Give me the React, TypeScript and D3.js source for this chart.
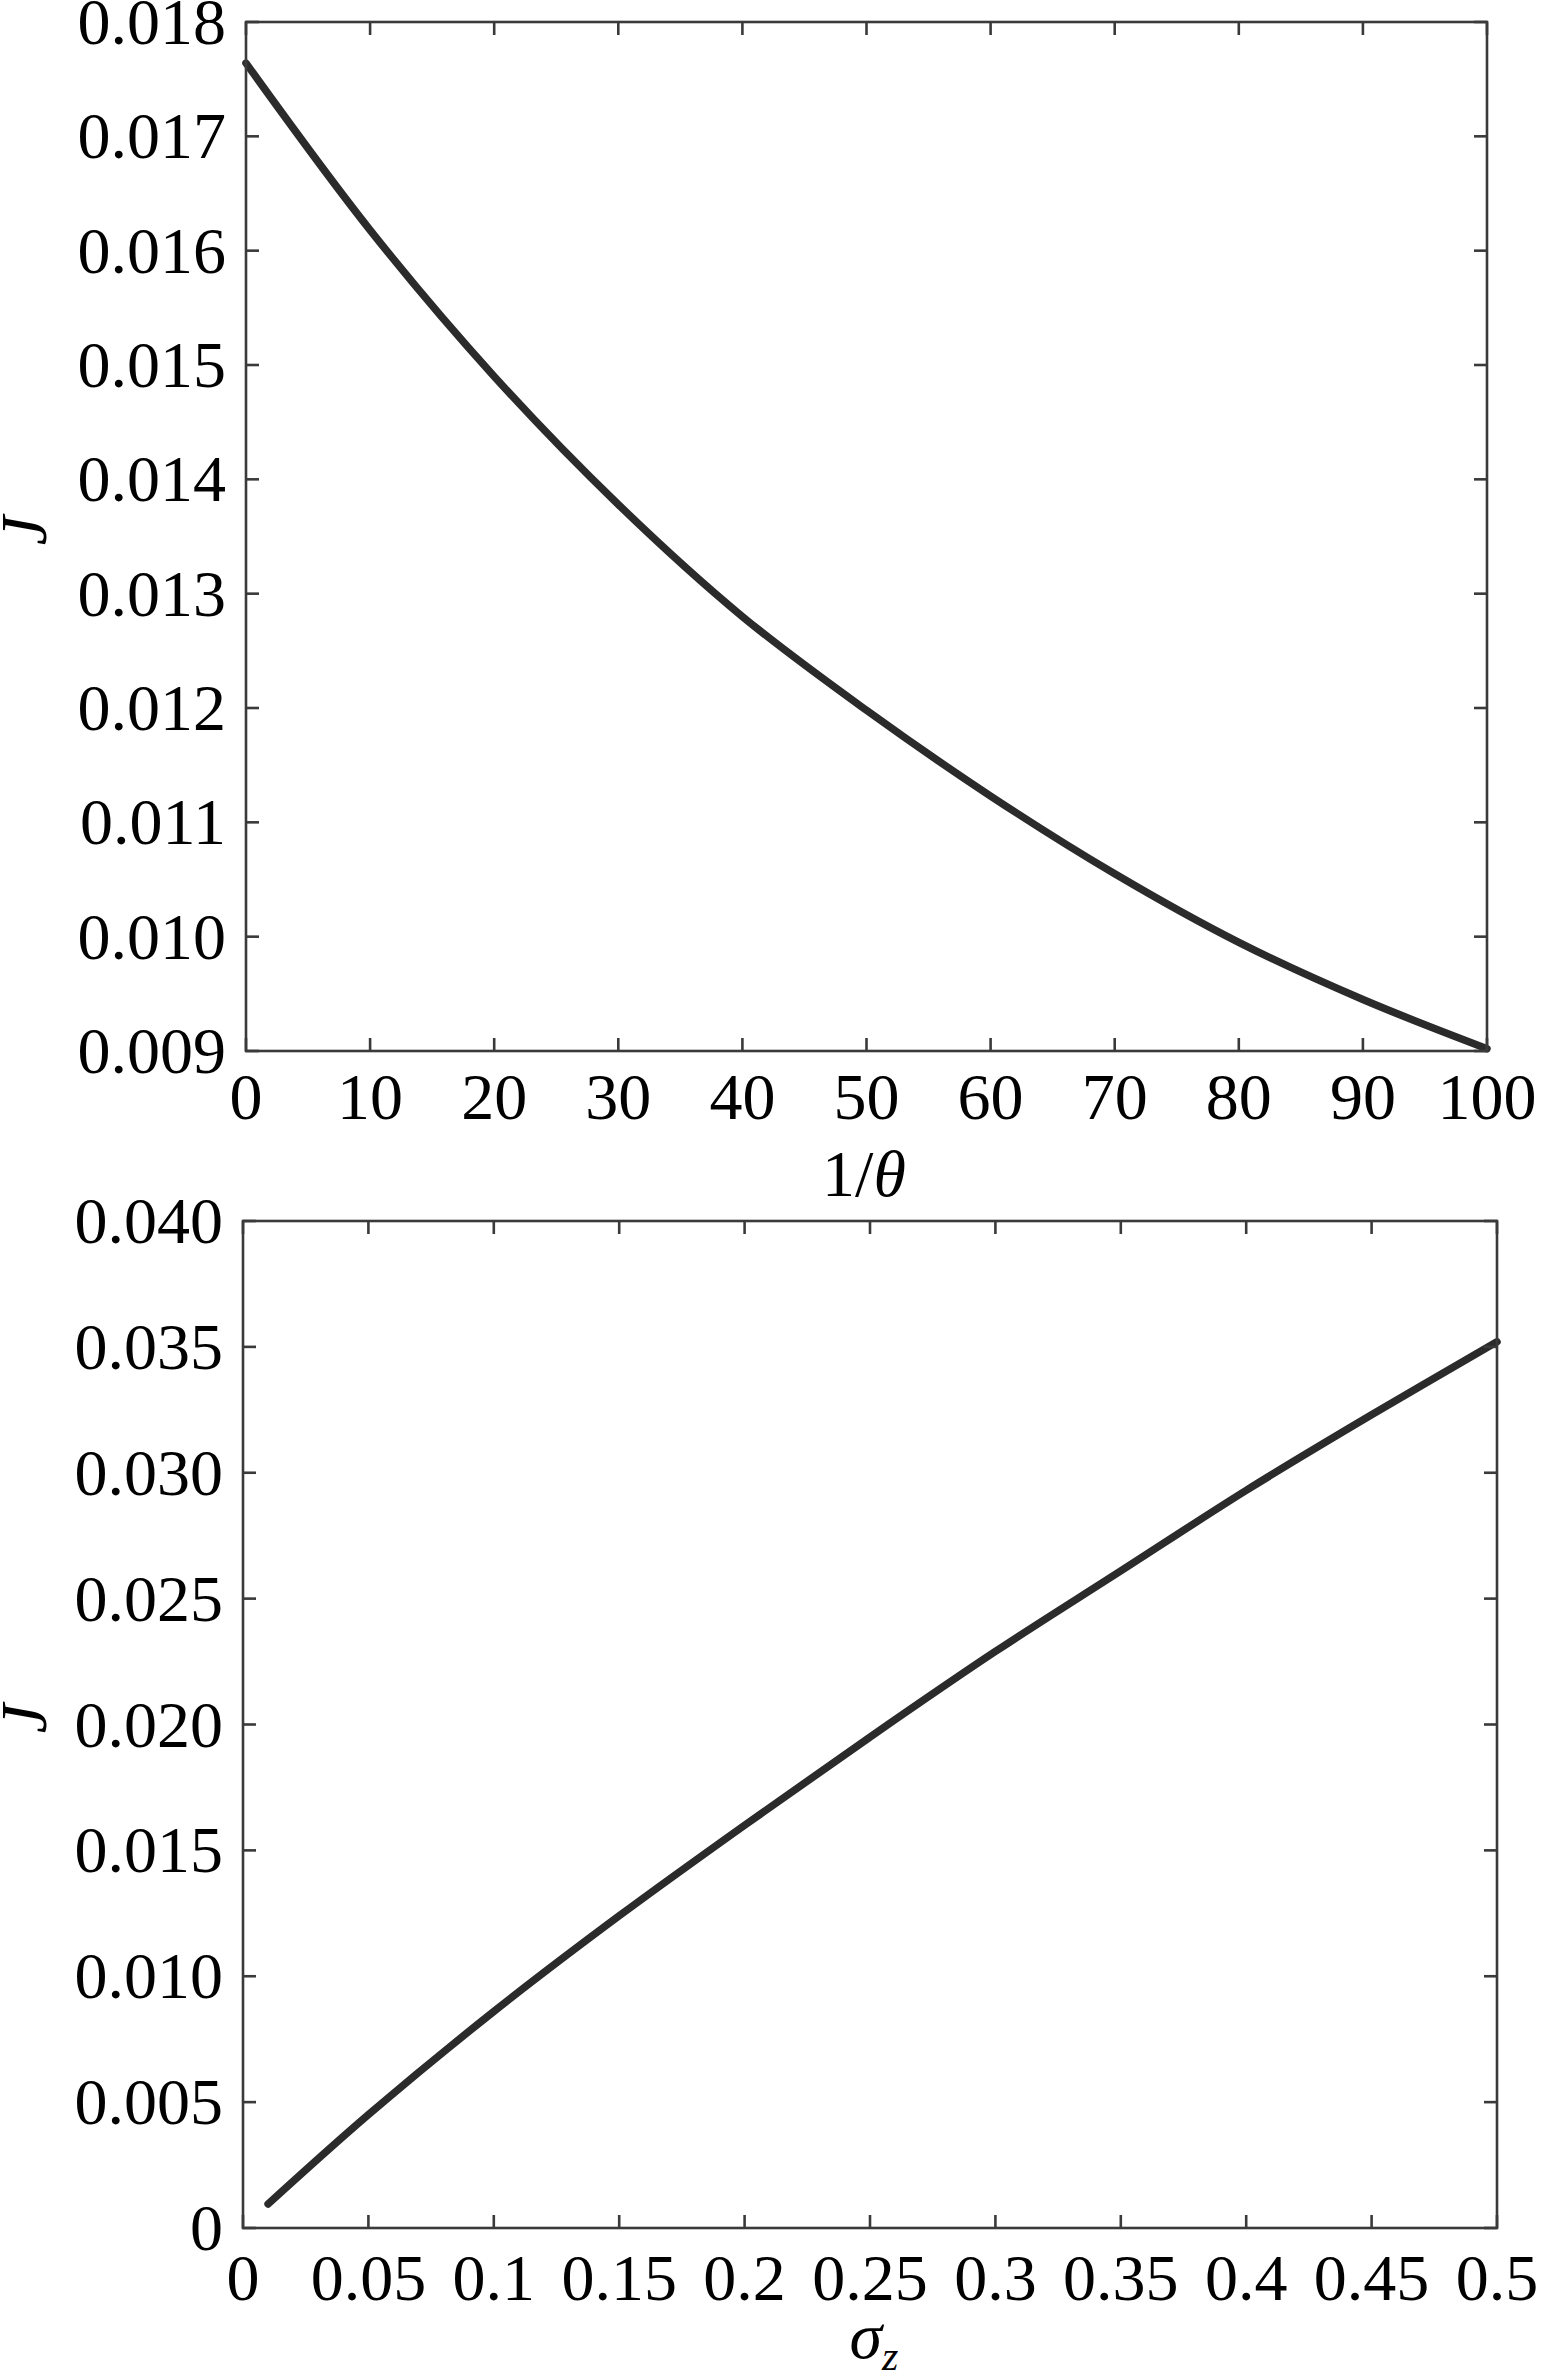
import React from 'react';
import * as d3 from 'd3';

// ---- data ----
const invTheta = [0, 10, 20, 30, 40, 50, 60, 70, 80, 90, 100];
const jTheta = [0.01764, 0.01618, 0.0149, 0.01378, 0.0128, 0.01198, 0.01123, 0.01055, 0.00995, 0.00945, 0.00902];

const sigmaZ = [0.01, 0.05, 0.1, 0.15, 0.2, 0.25, 0.3, 0.35, 0.4, 0.45, 0.5];
const jSigma = [0.00095, 0.0045, 0.0086, 0.0124, 0.016, 0.0195, 0.0229, 0.0261, 0.0293, 0.0323, 0.0352];

const topXTicks = [0, 10, 20, 30, 40, 50, 60, 70, 80, 90, 100];
const topXLabels = ['0', '10', '20', '30', '40', '50', '60', '70', '80', '90', '100'];
const topYTicks = [0.009, 0.01, 0.011, 0.012, 0.013, 0.014, 0.015, 0.016, 0.017, 0.018];
const topYLabels = ['0.009', '0.010', '0.011', '0.012', '0.013', '0.014', '0.015', '0.016', '0.017', '0.018'];

const botXTicks = [0, 0.05, 0.1, 0.15, 0.2, 0.25, 0.3, 0.35, 0.4, 0.45, 0.5];
const botXLabels = ['0', '0.05', '0.1', '0.15', '0.2', '0.25', '0.3', '0.35', '0.4', '0.45', '0.5'];
const botYTicks = [0, 0.005, 0.01, 0.015, 0.02, 0.025, 0.03, 0.035, 0.04];
const botYLabels = ['0', '0.005', '0.010', '0.015', '0.020', '0.025', '0.030', '0.035', '0.040'];

const FONT = "'Liberation Serif', 'DejaVu Serif', serif";
const AXIS = '#3a3a3a';
const CURVE = '#2b2b2b';
const TICK = 13;
const FS = 66;

type PanelProps = {
  left: number; right: number; top: number; bottom: number;
  xDomain: [number, number]; yDomain: [number, number];
  xTicks: number[]; xLabels: string[]; yTicks: number[]; yLabels: string[];
  xs: number[]; ys: number[];
  xLabelOffset: number;
  xTitle: React.ReactNode;
  yTitleX: number;
};

function Panel(p: PanelProps) {
  const x = d3.scaleLinear().domain(p.xDomain).range([p.left, p.right]);
  const y = d3.scaleLinear().domain(p.yDomain).range([p.bottom, p.top]);
  const pts = p.xs.map((v, i) => [v, p.ys[i]] as [number, number]);
  const line = d3.line<[number, number]>()
    .x(d => x(d[0]))
    .y(d => y(d[1]))
    .curve(d3.curveCatmullRom.alpha(0.5));
  const midY = (p.top + p.bottom) / 2 - 6;
  return (
    <g>
      <path d={line(pts) || ''} fill="none" stroke={CURVE} strokeWidth={7.5} strokeLinecap="round" strokeLinejoin="round" />
      <rect x={p.left} y={p.top} width={p.right - p.left} height={p.bottom - p.top} fill="none" stroke={AXIS} strokeWidth={2.6} />
      {p.xTicks.map((t, i) => (
        <g key={'xt' + i}>
          <line x1={x(t)} x2={x(t)} y1={p.bottom} y2={p.bottom - TICK} stroke={AXIS} strokeWidth={2.6} />
          <line x1={x(t)} x2={x(t)} y1={p.top} y2={p.top + TICK} stroke={AXIS} strokeWidth={2.6} />
          <text x={x(t)} y={p.bottom + p.xLabelOffset} textAnchor="middle" fontFamily={FONT} fontSize={FS} fill="#000">{p.xLabels[i]}</text>
        </g>
      ))}
      {p.yTicks.map((t, i) => (
        <g key={'yt' + i}>
          <line x1={p.left} x2={p.left + TICK} y1={y(t)} y2={y(t)} stroke={AXIS} strokeWidth={2.6} />
          <line x1={p.right} x2={p.right - TICK} y1={y(t)} y2={y(t)} stroke={AXIS} strokeWidth={2.6} />
          <text x={p.left - 20} y={y(t) + 22} textAnchor="end" fontFamily={FONT} fontSize={FS} fill="#000">{p.yLabels[i]}</text>
        </g>
      ))}
      <text transform={`translate(${p.yTitleX},${midY}) rotate(-90)`} textAnchor="middle" fontFamily={FONT} fontSize={FS} fontStyle="italic" fill="#000">J</text>
      {p.xTitle}
    </g>
  );
}

export default function App() {
  return (
    <svg width={1544} height={2376} style={{ position: 'absolute', left: 0, top: 0, background: '#fff' }}>
      <rect x={0} y={0} width={1544} height={2376} fill="#fff" />
      <Panel
        left={246} right={1487} top={22} bottom={1051}
        xDomain={[0, 100]} yDomain={[0.009, 0.018]}
        xTicks={topXTicks} xLabels={topXLabels} yTicks={topYTicks} yLabels={topYLabels}
        xs={invTheta} ys={jTheta}
        xLabelOffset={68}
        yTitleX={46}
        xTitle={
          <text x={864} y={1196} textAnchor="middle" fontFamily={FONT} fontSize={FS} fill="#000">
            1/<tspan fontStyle="italic">θ</tspan>
          </text>
        }
      />
      <Panel
        left={243} right={1497} top={1221} bottom={2228}
        xDomain={[0, 0.5]} yDomain={[0, 0.04]}
        xTicks={botXTicks} xLabels={botXLabels} yTicks={botYTicks} yLabels={botYLabels}
        xs={sigmaZ} ys={jSigma}
        xLabelOffset={72}
        yTitleX={46}
        xTitle={
          <text x={874} y={2358} textAnchor="middle" fontFamily={FONT} fontSize={FS} fill="#000">
            <tspan fontStyle="italic">σ</tspan>
            <tspan fontStyle="italic" fontSize={42} dy={12}>z</tspan>
          </text>
        }
      />
    </svg>
  );
}
